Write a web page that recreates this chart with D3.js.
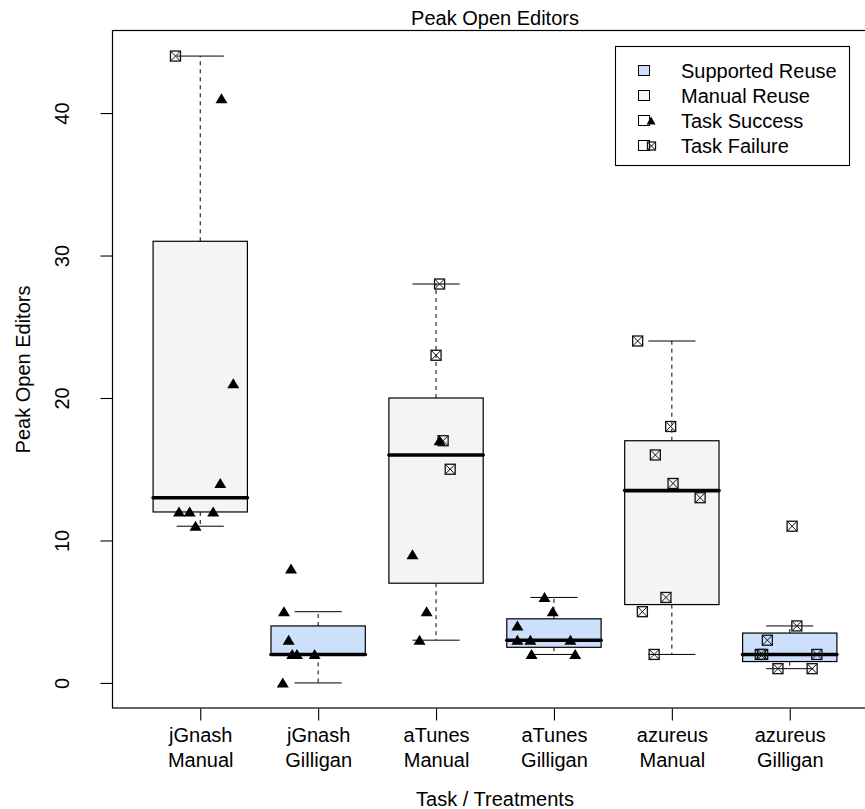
<!DOCTYPE html>
<html>
<head>
<meta charset="utf-8">
<script src="https://cdn.jsdelivr.net/npm/d3@7"></script>
<style>
  html, body { margin: 0; padding: 0; background: #fff; }
  svg { display: block; font-family: "Liberation Sans", Arial, Helvetica, sans-serif; }
</style>
</head>
<body>
<svg id="chart" width="865" height="809"></svg>
<script>
// Peak number of editors open per participant, grouped by task and treatment.
const tasks      = ["jGnash", "jGnash", "aTunes", "aTunes", "azureus", "azureus"];
const treatments = ["Manual", "Gilligan", "Manual", "Gilligan", "Manual", "Gilligan"];
const supported  = [false, true, false, true, false, true];

const peakEditors = [
  [44, 41, 21, 14, 12, 12, 12, 11],
  [8, 5, 3, 2, 2, 2, 0],
  [28, 23, 17, 17, 15, 9, 5, 3],
  [6, 5, 4, 3, 3, 3, 2, 2],
  [24, 18, 16, 14, 13, 6, 5, 2],
  [11, 4, 3, 2, 2, 2, 1, 1]
];
// S = task success, F = task failure
const outcomes = [
  ["F", "S", "S", "S", "S", "S", "S", "S"],
  ["S", "S", "S", "S", "S", "S", "S"],
  ["F", "F", "F", "S", "F", "S", "S", "S"],
  ["S", "S", "S", "S", "S", "S", "S", "S"],
  ["F", "F", "F", "F", "F", "F", "F", "F"],
  ["F", "F", "F", "F", "F", "F", "F", "F"]
];
// horizontal jitter of each point, in category units
const jitter = [
  [-0.21, 0.18, 0.28, 0.17, -0.18, -0.09, 0.11, -0.04],
  [-0.23, -0.29, -0.25, -0.22, -0.18, -0.03, -0.30],
  [0.03, 0.00, 0.06, 0.03, 0.12, -0.20, -0.08, -0.14],
  [-0.08, -0.01, -0.31, -0.31, -0.20, 0.14, -0.19, 0.18],
  [-0.29, -0.01, -0.14, 0.01, 0.24, -0.05, -0.25, -0.15],
  [0.02, 0.06, -0.19, -0.25, -0.23, 0.23, -0.10, 0.19]
];
const yTicks = [0, 10, 20, 30, 40];
const legendLabels = ["Supported Reuse", "Manual Reuse", "Task Success", "Task Failure"];

const fillSupported = "#cce0fb";
const fillManual = "#f4f4f4";
const fontSize = 20;

const svg = d3.select("#chart");

const x = d3.scaleLinear().domain([0.26, 6.74]).range([113, 877]);
const y = d3.scaleLinear().domain([-1.76, 45.76]).range([708, 31]);

// Tukey five-number summary (hinges) as in R's boxplot
function fivenum(values) {
  const s = values.slice().sort((a, b) => a - b);
  const n = s.length;
  const n4 = Math.floor((n + 3) / 2) / 2;
  const d = [1, n4, (n + 1) / 2, n + 1 - n4, n];
  return d.map(v => 0.5 * (s[Math.floor(v) - 1] + s[Math.ceil(v) - 1]));
}
const stats = peakEditors.map(vals => {
  const [mn, lo, med, hi, mx] = fivenum(vals);
  const iqr = hi - lo;
  const inside = vals.filter(v => v >= lo - 1.5 * iqr && v <= hi + 1.5 * iqr);
  return { lo, med, hi, wlo: d3.min(inside), whi: d3.max(inside) };
});

const boxHalf = 0.4, capHalf = 0.2;
const g = svg.append("g");

stats.forEach((s, i) => {
  const c = i + 1;
  const gb = g.append("g");
  // dashed whiskers
  gb.append("line").attr("x1", x(c)).attr("x2", x(c)).attr("y1", y(s.hi)).attr("y2", y(s.whi))
    .attr("stroke", "#000").attr("stroke-dasharray", "4,4");
  gb.append("line").attr("x1", x(c)).attr("x2", x(c)).attr("y1", y(s.lo)).attr("y2", y(s.wlo))
    .attr("stroke", "#000").attr("stroke-dasharray", "4,4");
  // whisker caps
  [s.whi, s.wlo].forEach(v => {
    gb.append("line").attr("x1", x(c - capHalf)).attr("x2", x(c + capHalf))
      .attr("y1", y(v)).attr("y2", y(v)).attr("stroke", "#000");
  });
  // box
  gb.append("rect")
    .attr("x", x(c - boxHalf)).attr("width", x(c + boxHalf) - x(c - boxHalf))
    .attr("y", y(s.hi)).attr("height", y(s.lo) - y(s.hi))
    .attr("fill", supported[i] ? fillSupported : fillManual)
    .attr("stroke", "#000").attr("stroke-width", 1.2);
  // median
  gb.append("line").attr("x1", x(c - boxHalf)).attr("x2", x(c + boxHalf))
    .attr("y1", y(s.med)).attr("y2", y(s.med))
    .attr("stroke", "#000").attr("stroke-width", 3.6).attr("stroke-linecap", "round");
});

// marker shapes
function triangle(sel, cx, cy, w, h) {
  sel.append("path")
    .attr("d", `M${cx},${cy - h * 0.55}L${cx + w / 2},${cy + h * 0.45}L${cx - w / 2},${cy + h * 0.45}Z`)
    .attr("fill", "#000");
}
function crossSquare(sel, cx, cy, size) {
  const h = size / 2;
  sel.append("rect").attr("x", cx - h).attr("y", cy - h).attr("width", size).attr("height", size)
    .attr("fill", "none").attr("stroke", "#111").attr("stroke-width", 1.3);
  sel.append("path")
    .attr("d", `M${cx - h},${cy - h}L${cx + h},${cy + h}M${cx - h},${cy + h}L${cx + h},${cy - h}`)
    .attr("stroke", "#111").attr("stroke-width", 1);
}

const gp = svg.append("g");
peakEditors.forEach((vals, i) => {
  vals.forEach((v, j) => {
    const px = x(i + 1 + jitter[i][j]);
    const py = y(v);
    if (outcomes[i][j] === "S") triangle(gp, px, py, 12, 10);
    else crossSquare(gp, px, py, 10);
  });
});

// plot frame
svg.append("rect").attr("x", 112.5).attr("y", 30.5).attr("width", 877 - 112.5).attr("height", 708 - 30.5)
  .attr("fill", "none").attr("stroke", "#000").attr("stroke-width", 1.2);

// y axis
const yAxis = svg.append("g").attr("transform", "translate(112.5,0)")
  .call(d3.axisLeft(y).tickValues(yTicks).tickSize(12).tickPadding(0));
yAxis.select(".domain").remove();
yAxis.selectAll(".tick line").attr("stroke", "#000").attr("stroke-width", 1.1);
yAxis.selectAll(".tick text")
  .attr("x", null).attr("dy", null)
  .attr("transform", "translate(-44,0) rotate(-90)")
  .attr("text-anchor", "middle")
  .attr("font-size", fontSize).attr("font-family", null).attr("fill", "#000");

// x axis with two-line labels
const xAxis = svg.append("g").attr("transform", "translate(0,708.5)")
  .call(d3.axisBottom(x).tickValues(d3.range(1, 7)).tickSize(12).tickFormat(""));
xAxis.select(".domain").remove();
xAxis.selectAll(".tick line").attr("stroke", "#000").attr("stroke-width", 1.1);
xAxis.selectAll(".tick").each(function (d, i) {
  const t = d3.select(this).append("text")
    .attr("text-anchor", "middle").attr("font-size", fontSize).attr("fill", "#000");
  t.append("tspan").attr("x", 0).attr("y", 33).text(tasks[i]);
  t.append("tspan").attr("x", 0).attr("y", 58).text(treatments[i]);
});

// titles
svg.append("text").attr("x", x(3.5)).attr("y", 25).attr("text-anchor", "middle")
  .attr("font-size", fontSize).text("Peak Open Editors");
svg.append("text").attr("x", x(3.5)).attr("y", 806).attr("text-anchor", "middle")
  .attr("font-size", fontSize).text("Task / Treatments");
svg.append("text").attr("transform", `translate(30,${(y.range()[0] + y.range()[1]) / 2}) rotate(-90)`)
  .attr("text-anchor", "middle").attr("font-size", fontSize).text("Peak Open Editors");

// legend
const lg = svg.append("g");
lg.append("rect").attr("x", 615.5).attr("y", 46.5).attr("width", 234).attr("height", 119)
  .attr("fill", "#fff").attr("stroke", "#000").attr("stroke-width", 1.1);
legendLabels.forEach((lab, i) => {
  const cy = 71 + i * 25;
  lg.append("rect").attr("x", 638.5).attr("y", cy - 5.5).attr("width", 11).attr("height", 10)
    .attr("stroke", "#000").attr("stroke-width", 1)
    .attr("fill", i === 0 ? fillSupported : (i === 1 ? fillManual : "#fff"));
  if (i === 2) triangle(lg, 651, cy, 9, 8);
  if (i === 3) crossSquare(lg, 651.5, cy, 8);
  lg.append("text").attr("x", 681).attr("y", cy + 7).attr("font-size", fontSize).text(lab);
});
</script>
</body>
</html>
